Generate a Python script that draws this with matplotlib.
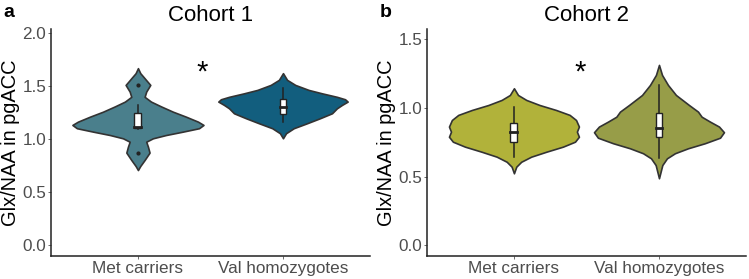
import matplotlib
matplotlib.use("Agg")
import matplotlib.pyplot as plt
import numpy as np

plt.rcParams['font.family'] = ['Liberation Sans', 'DejaVu Sans']

groups = ["Met carriers", "Val homozygotes"]

# violin outlines: y value and half width (x units)
met1_y = [1.670, 1.623, 1.575, 1.512, 1.449, 1.40, 1.355, 1.31, 1.26, 1.213, 1.166,
          1.135, 1.104, 1.072, 1.04, 1.009, 0.977, 0.93, 0.874, 0.805, 0.748, 0.71]
met1_w = [0, .016, .046, .085, .057, .046, .09, .159, .241, .331, .414,
          .452, .421, .31, .193, .103, .057, .069, .08, .046, .016, 0]
val1_y = [1.623, 1.56, 1.512, 1.465, 1.433, 1.40, 1.377, 1.355, 1.324, 1.292, 1.245,
          1.198, 1.151, 1.104, 1.057, 1.009]
val1_w = [0, .028, .085, .177, .269, .372, .428, .446, .407, .372, .338,
          .255, .166, .074, .021, 0]
met2_y = [1.143, 1.094, 1.058, 1.021, 0.985, 0.949, 0.912, 0.864, 0.827, 0.79, 0.754,
          0.718, 0.681, 0.645, 0.608, 0.572, 0.524]
met2_w = [0, .028, .085, .177, .29, .384, .428, .448, .434, .448, .421,
          .338, .223, .119, .05, .016, 0]
val2_y = [1.313, 1.24, 1.167, 1.094, 1.021, 0.973, 0.936, 0.90, 0.864, 0.823, 0.783,
          0.743, 0.706, 0.67, 0.633, 0.584, 0.488]
val2_w = [0, .021, .062, .117, .207, .269, .294, .352, .414, .448, .421,
          .317, .2, .11, .055, .023, 0]

# boxplot stats: lower whisker, q1, median, q3, upper whisker
met1_box = [1.10, 1.104, 1.115, 1.245, 1.324]
val1_box = [1.166, 1.238, 1.30, 1.377, 1.48]
met2_box = [0.645, 0.754, 0.823, 0.888, 1.009]
val2_box = [0.633, 0.79, 0.852, 0.961, 1.167]
met1_out = [1.512, 0.874]

panels = [
    dict(letter="a", title="Cohort 1", ylim=(-0.1, 2.04), yticks=[0.0, 0.5, 1.0, 1.5, 2.0],
         violins=[(met1_y, met1_w), (val1_y, val1_w)], boxes=[met1_box, val1_box],
         outliers=[met1_out, []], colors=["#4a7f8c", "#125e7e"], star=(1.44, 1.63)),
    dict(letter="b", title="Cohort 2", ylim=(-0.078, 1.575), yticks=[0.0, 0.5, 1.0, 1.5],
         violins=[(met2_y, met2_w), (val2_y, val2_w)], boxes=[met2_box, val2_box],
         outliers=[[], []], colors=["#b1b23a", "#979d48"], star=(1.455, 1.256)),
]

fig = plt.figure(figsize=(7.49, 2.79), dpi=100)
lefts = [0.068, 0.570]

for left, p in zip(lefts, panels):
    ax = fig.add_axes([left, 0.0824, 0.426, 0.814])
    for i, ((vy, vw), box, outs, col) in enumerate(zip(p["violins"], p["boxes"],
                                                        p["outliers"], p["colors"])):
        xc = i + 1
        vy = np.array(vy)
        vw = np.array(vw)
        ax.fill_betweenx(vy, xc - vw, xc + vw, facecolor=col, edgecolor="#333333",
                         linewidth=1.2, zorder=2)
        lo, q1, med, q3, hi = box
        ax.plot([xc, xc], [lo, hi], color="#222222", lw=1.1, zorder=3)
        ax.add_patch(plt.Rectangle((xc - 0.024, q1), 0.048, q3 - q1, facecolor="white",
                                   edgecolor="#222222", lw=1.0, zorder=4))
        ax.plot([xc - 0.024, xc + 0.024], [med, med], color="#222222", lw=2.0, zorder=5)
        if outs:
            ax.plot([xc] * len(outs), outs, "o", color="#222222", ms=2, zorder=5)
    ax.text(p["star"][0], p["star"][1], "*", fontsize=21, ha="center", va="center",
            color="black")
    ax.set_xlim(0.4, 2.6)
    ax.set_ylim(*p["ylim"])
    ax.set_xticks([1, 2])
    ax.set_xticklabels(groups)
    ax.set_yticks(p["yticks"])
    ax.set_yticklabels([f"{t:.1f}" for t in p["yticks"]])
    ax.tick_params(labelsize=12.3, labelcolor="#4d4d4d", color="#555555", length=2,
                   width=0.6, pad=1.5)
    for s in ["top", "right"]:
        ax.spines[s].set_visible(False)
    for s in ["left", "bottom"]:
        ax.spines[s].set_linewidth(1.1)
        ax.spines[s].set_color("#222222")
    ax.set_ylabel("Glx/NAA in pgACC", fontsize=14.4)
    ax.yaxis.set_label_coords(-0.096, 0.5)
    ax.set_title(p["title"], fontsize=16, pad=6)
    fig.text(left - 0.063, 0.955, p["letter"], fontsize=14, fontweight="bold",
             ha="left", va="center")

fig.savefig("out.png", dpi=100)
